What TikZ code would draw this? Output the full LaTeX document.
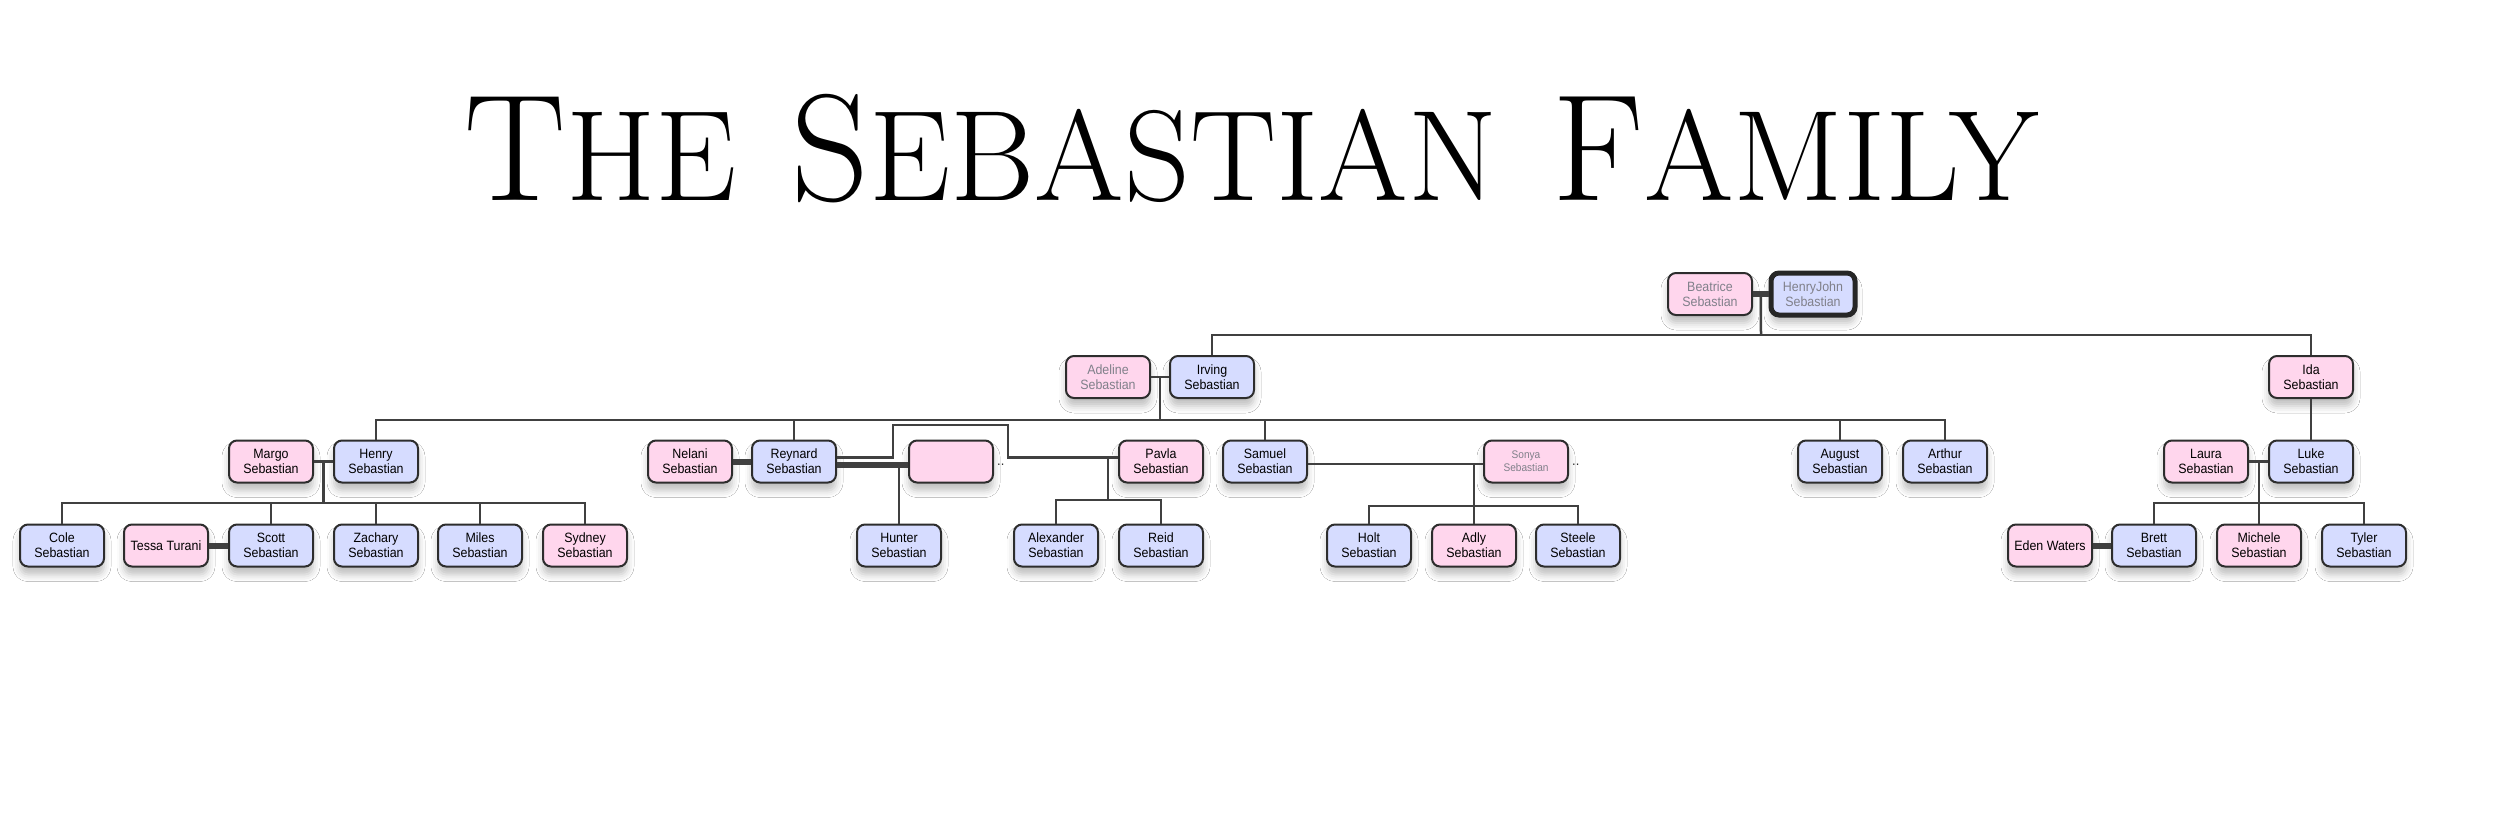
\documentclass[tikz,border=0pt]{standalone}
\usepackage{fontspec}
\newfontfamily\boxfont[FakeStretch=0.92]{Liberation Sans}
\usetikzlibrary{calc,shadows.blur}
\definecolor{pinkbox}{RGB}{255,214,237}
\definecolor{bluebox}{RGB}{214,220,255}
\definecolor{edgecol}{RGB}{45,45,45}
\definecolor{linecol}{RGB}{64,64,64}
\definecolor{greytext}{RGB}{128,128,138}
\newcommand\TitBig[1]{{\fontsize{152}{152}\selectfont #1}}
\newcommand\TitSm[1]{{\fontsize{129}{129}\selectfont #1}}
\begin{document}
\begin{tikzpicture}[x=1pt,y=-1pt,
  person/.style={draw=edgecol, line width=2pt, rounded corners=8pt,
    minimum width=84pt, minimum height=42pt, inner sep=0pt, align=center,
    font=\boxfont\fontsize{13.5}{15}\selectfont, text=black,
    blur shadow={shadow xshift=0pt, shadow yshift=-8pt, shadow blur radius=7pt, shadow opacity=25}},
  man/.style={person, fill=bluebox},
  woman/.style={person, fill=pinkbox},
  faded/.style={text=greytext},
  conn/.style={draw=linecol, line width=2.5pt},
  marry/.style={draw=linecol, line width=6pt},
  dotsnode/.style={anchor=base west, inner sep=0pt, font=\boxfont\fontsize{14}{15}\selectfont, text=edgecol}]
\useasboundingbox (0,0) rectangle (2500,822);
\fill[white] (0,0) rectangle (2500,822);

% title
\node[anchor=base, inner sep=0pt] (title) at (1252,200)
  {\TitBig{T}\TitSm{HE}\hspace{55pt}\TitBig{S}\TitSm{EBASTIAN}\hspace{55pt}\TitBig{F}\TitSm{AMILY}};

% generation 0
\node[woman, faded] (bea) at (1710,294) {Beatrice\\Sebastian};
\node[man, faded, line width=5pt, draw=black!85] (hj) at (1813,294) {HenryJohn\\Sebastian};

% generation 1
\node[woman, faded] (adeline) at (1108,377) {Adeline\\Sebastian};
\node[man] (irving) at (1212,377) {Irving\\Sebastian};
\node[woman] (ida) at (2311,377) {Ida\\Sebastian};

% generation 2
\node[woman] (margo) at (271,461.5) {Margo\\Sebastian};
\node[man] (henry) at (376,461.5) {Henry\\Sebastian};
\node[woman] (nelani) at (690,461.5) {Nelani\\Sebastian};
\node[man] (reynard) at (794,461.5) {Reynard\\Sebastian};
\node[woman] (empty) at (951,461.5) {};
\node[woman] (pavla) at (1161,461.5) {Pavla\\Sebastian};
\node[man] (samuel) at (1265,461.5) {Samuel\\Sebastian};
\node[woman, faded, font=\boxfont\fontsize{11}{13}\selectfont] (sonya) at (1526,461.5) {Sonya\\Sebastian};
\node[man] (august) at (1840,461.5) {August\\Sebastian};
\node[man] (arthur) at (1945,461.5) {Arthur\\Sebastian};
\node[woman] (laura) at (2206,461.5) {Laura\\Sebastian};
\node[man] (luke) at (2311,461.5) {Luke\\Sebastian};

% generation 3
\node[man] (cole) at (62,545.5) {Cole\\Sebastian};
\node[woman] (tessa) at (166,545.5) {Tessa Turani};
\node[man] (scott) at (271,545.5) {Scott\\Sebastian};
\node[man] (zachary) at (376,545.5) {Zachary\\Sebastian};
\node[man] (miles) at (480,545.5) {Miles\\Sebastian};
\node[woman] (sydney) at (585,545.5) {Sydney\\Sebastian};
\node[man] (hunter) at (899,545.5) {Hunter\\Sebastian};
\node[man] (alex) at (1056,545.5) {Alexander\\Sebastian};
\node[man] (reid) at (1161,545.5) {Reid\\Sebastian};
\node[man] (holt) at (1369,545.5) {Holt\\Sebastian};
\node[woman] (adly) at (1474,545.5) {Adly\\Sebastian};
\node[man] (steele) at (1578,545.5) {Steele\\Sebastian};
\node[woman] (eden) at (2050,545.5) {Eden Waters};
\node[man] (brett) at (2154,545.5) {Brett\\Sebastian};
\node[woman] (michele) at (2259,545.5) {Michele\\Sebastian};
\node[man] (tyler) at (2364,545.5) {Tyler\\Sebastian};

% trailing dots
\node[dotsnode] (dots1) at ([xshift=3pt,yshift=-4pt]empty.east) {..};
\node[dotsnode] (dots2) at ([xshift=3pt,yshift=-4pt]sonya.east) {..};

% generation 0 links
\coordinate (j0) at (1761,335);
\draw[marry] (bea.east) -- (hj.west);
\draw[conn] ($(bea.east)!0.5!(hj.west)$) -- (j0);
\draw[conn] (irving.north) |- (j0) -| (ida.north);

% generation 1 links
\coordinate (j1) at (1160,420);
\draw[conn] (adeline.east) -- (irving.west);
\draw[conn] ($(adeline.east)!0.5!(irving.west)$) -- (j1);
\draw[conn] (henry.north) |- (j1) -| (arthur.north);
\draw[conn] (reynard.north) -- (reynard.north |- j1);
\draw[conn] (samuel.north) -- (samuel.north |- j1);
\draw[conn] (august.north) -- (august.north |- j1);
\draw[conn] (ida.south) -- (luke.north);

% Henry family
\coordinate (j2) at (323.5,503);
\draw[conn] (margo.east) -- (henry.west);
\draw[conn] ($(margo.east)!0.5!(henry.west)$) -- (j2);
\draw[conn] (cole.north) |- (j2) -| (sydney.north);
\draw[conn] (scott.north) -- (scott.north |- j2);
\draw[conn] (zachary.north) -- (zachary.north |- j2);
\draw[conn] (miles.north) -- (miles.north |- j2);
\draw[marry] (tessa.east) -- (scott.west);

% Reynard family
\draw[marry] (nelani.east) -- (reynard.west);
\draw[marry] ([yshift=-3.5pt]reynard.east) -- ([yshift=-3.5pt]empty.west);
\coordinate (j3) at (899,465);
\draw[conn] (hunter.north) -- (j3);
\coordinate (rp1) at (893,425);
\coordinate (rp2) at (1008,425);
\draw[conn] ([yshift=4pt]reynard.east) -| (rp1) -- (rp2) |- ([yshift=4pt]pavla.west);
\coordinate (j4) at (1108,457.5);
\coordinate (j5) at (1108,500);
\draw[conn] (j4) -- (j5);
\draw[conn] (alex.north) |- (j5) -| (reid.north);

% Samuel family
\draw[conn] ([yshift=-2.5pt]samuel.east) -- ([yshift=-2.5pt]sonya.west);
\coordinate (j6) at (1474,506);
\coordinate (j7) at (1474,464);
\draw[conn] (adly.north) -- (j7);
\draw[conn] (holt.north) |- (j6) -| (steele.north);

% Luke family
\draw[conn] (laura.east) -- (luke.west);
\coordinate (j8) at (2259,503);
\draw[conn] (michele.north) -- (michele.north |- laura.east);
\draw[conn] (brett.north) |- (j8) -| (tyler.north);
\draw[marry] (eden.east) -- (brett.west);
\end{tikzpicture}
\end{document}
